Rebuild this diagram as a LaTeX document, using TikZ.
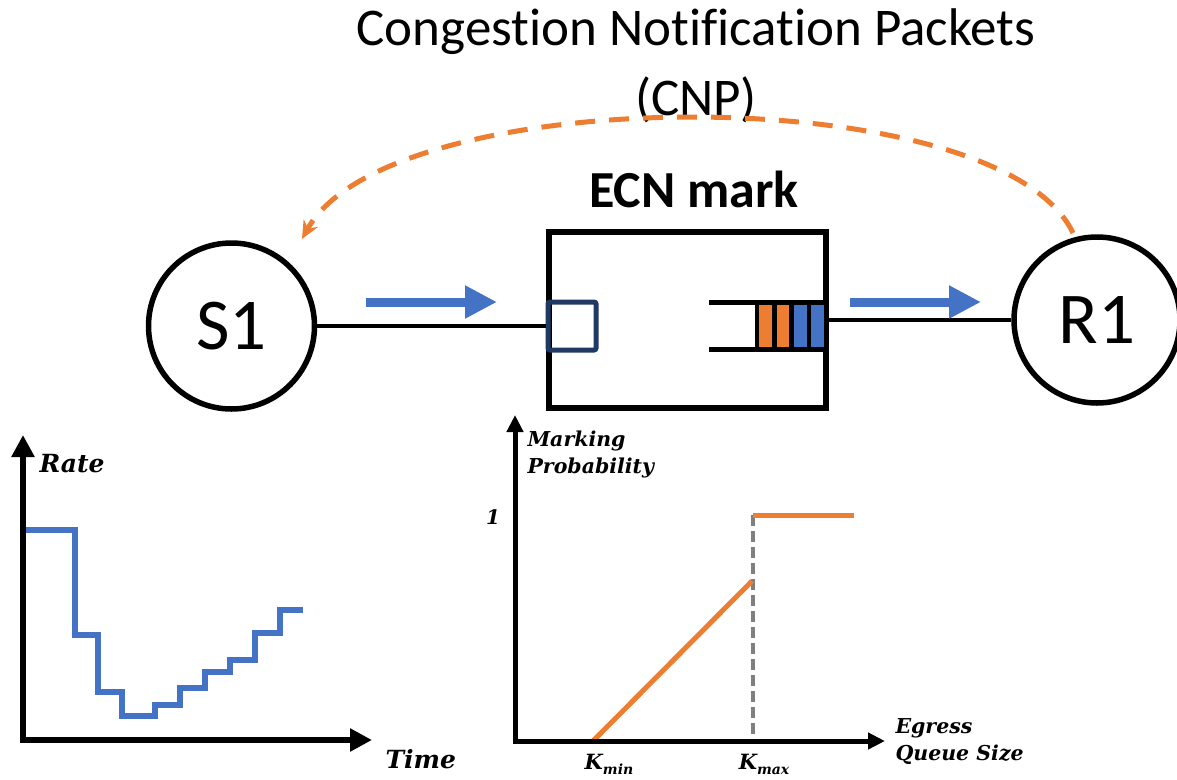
\documentclass[tikz,border=0pt]{standalone}
\usepackage{fontspec}
\setmainfont{Carlito}[Ligatures=NoCommon]
\newfontfamily\plotfont{DejaVu Serif}
\usetikzlibrary{arrows.meta}
\definecolor{flowblue}{HTML}{4472C4}
\definecolor{cnporange}{HTML}{ED7D31}
\definecolor{portnavy}{HTML}{203864}
\definecolor{guidegray}{HTML}{7F7F7F}
\newcommand{\plotsize}[1]{\plotfont\bfseries\itshape\fontsize{#1}{1.3\dimexpr#1pt\relax}\selectfont}
\begin{document}
\begin{tikzpicture}[x=1pt,y=-1pt,
  host/.style={circle, draw, line width=5.5pt, minimum size=166pt, inner sep=0pt,
    font=\fontsize{73}{80}\selectfont},
  link/.style={line width=4.5pt},
  flow/.style={flowblue, line width=9pt, -{Triangle[length=32pt,width=31pt]}},
  cnp/.style={cnporange, line width=5pt, dash pattern=on 20pt off 14pt,
    -{Stealth[length=18pt,width=16pt]}},
  bigaxis/.style={line width=6pt, -{Triangle[length=22pt,width=22pt]}},
  smallaxis/.style={line width=5pt, -{Triangle[length=17pt,width=16pt]}},
  cell/.style={draw, line width=4.5pt},
]
\useasboundingbox (0,0) rectangle (1177,779);

% ---- title (base anchor sits on the last line) ----
\node[font=\fontsize{53}{70}\selectfont, align=center, anchor=base] (title) at (696,115)
  {Congestion Notification Packets\\(CNP)};

% ---- hosts and switch ----
\node[host] (S1) at (231.5,326) {S1};
\node[host] (R1) at (1097,320) {R1};
\node[font=\bfseries\fontsize{52}{60}\selectfont, anchor=base] (ecn) at (694,207) {ECN mark};
\node[draw, line width=5.5pt, minimum width=277pt, minimum height=176pt, inner sep=0pt]
  (switch) at (687.5,320) {};
\node[draw=portnavy, line width=5pt, minimum size=48pt, inner sep=0pt, rounded corners=2pt]
  (inport) at (572,326) {};

\draw[link] (S1) -- (inport);
\draw[link] (switch.east) -- (R1);

% egress queue with four packets
\draw[link] (709,302.5) -- (826,302.5);
\draw[link] (709,349.5) -- (826,349.5);
\foreach \x/\c in {757/cnporange, 774.25/cnporange, 791.5/flowblue, 808.75/flowblue}
  \filldraw[cell, fill=\c] (\x,302.5) rectangle ++(17.25,47);

% traffic direction
\draw[flow] (366,302) -- (497,302);
\draw[flow] (850,302) -- (981,302);

% congestion notification back to the sender
\coordinate (cnpfrom) at (1073,233);
\coordinate (cnpto) at (302,239);
\draw[cnp] (cnpfrom) .. controls (1000,78) and (390,80) .. (cnpto);

% ---- sending rate over time ----
\draw[flowblue, line width=6.5pt] (25,530) -| (75,635) -| (98,692) -| (122,716)
  -| (155,705) -| (180,688) -| (205,672) -| (230,660) -| (255,633) -| (280,610) -- (303,610);
\draw[bigaxis] (23,740) -- (23,435);
\draw[bigaxis] (20,740) -- (372,740);
\node[anchor=base west, font=\plotsize{25}] (rate) at (36,472) {Rate};
\node[anchor=base west, font=\plotsize{25}] (time) at (382,768) {Time};

% ---- ECN marking probability ----
\draw[guidegray, line width=4pt, dash pattern=on 11pt off 5pt] (753,515) -- (753,741);
\draw[cnporange, line width=5pt] (593,741) -- (752,581);
\draw[cnporange, line width=5pt] (753,515) -- (854,515);
\draw[smallaxis] (515,741) -- (515,415);
\draw[smallaxis] (513,741) -- (885,741);
\node[anchor=base west, align=left, font=\plotsize{20.5}] (prob) at (524,473) {Marking\\Probability};
\node[anchor=base west, align=left, font=\plotsize{20.5}] (qsize) at (892,760) {Egress\\Queue Size};
\node[anchor=base, font=\plotsize{20}] (one) at (493,524) {1};
\node[anchor=base, font=\plotsize{21}] (kmin) at (609,769) {K\raisebox{-5pt}{\fontsize{14}{14}\selectfont min}};
\node[anchor=base, font=\plotsize{21}] (kmax) at (764,769) {K\raisebox{-5pt}{\fontsize{14}{14}\selectfont max}};
\end{tikzpicture}
\end{document}
